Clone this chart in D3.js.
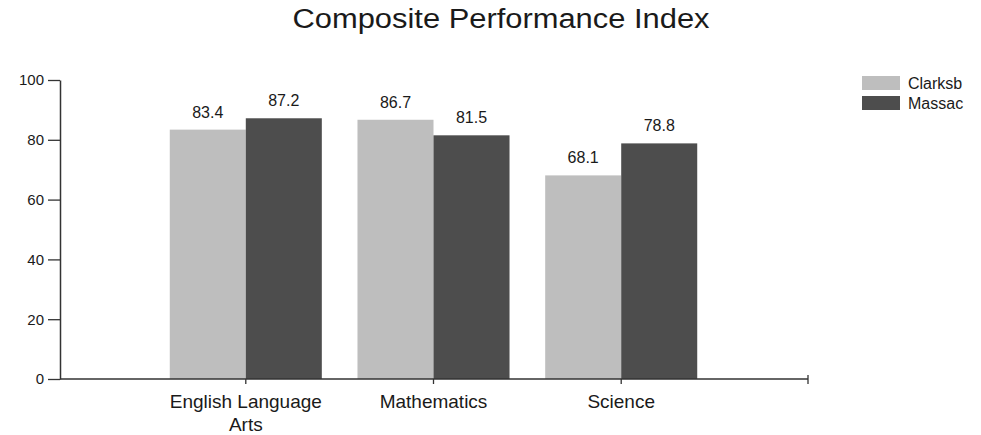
<!DOCTYPE html>
<html>
<head>
<meta charset="utf-8">
<script src="https://cdn.jsdelivr.net/npm/d3@7"></script>
<style>
  body { margin: 0; background: #fff; }
  text { font-family: "Liberation Sans", Arial, sans-serif; fill: #1a1a1a; }
</style>
</head>
<body>
<div id="chart"></div>
<script>
// Chart data
const subjects = ["English Language Arts", "Mathematics", "Science"];
const seriesNames = ["Clarksb", "Massac"];
const clarksbValues = [83.4, 86.7, 68.1];
const massacValues = [87.2, 81.5, 78.8];
const yTicks = [0, 20, 40, 60, 80, 100];
const colors = ["#bebebe", "#4d4d4d"];

const width = 981, height = 435;
const svg = d3.select("#chart").append("svg")
    .attr("width", width)
    .attr("height", height);

// Plot frame
const xLeft = 60, xRight = 808, yTop = 80, yBottom = 379;

const x = d3.scaleBand()
    .domain(subjects)
    .range([151, 716])
    .paddingInner(0.19)
    .paddingOuter(0.1);
const xSeries = d3.scaleBand()
    .domain(seriesNames)
    .range([0, x.bandwidth()]);
const y = d3.scaleLinear().domain([0, 100]).range([yBottom, yTop]);

// Title
svg.append("text")
    .attr("x", 501).attr("y", 28)
    .attr("text-anchor", "middle")
    .attr("textLength", 417)
    .attr("lengthAdjust", "spacingAndGlyphs")
    .style("font-size", "27px")
    .text("Composite Performance Index");

// Bars
const rows = subjects.map((s, i) => ({ subject: s, values: [clarksbValues[i], massacValues[i]] }));
const groups = svg.selectAll(".group")
    .data(rows)
    .join("g")
    .attr("class", "group")
    .attr("transform", d => `translate(${x(d.subject)},0)`);

groups.selectAll("rect")
    .data(d => d.values.map((v, j) => ({ name: seriesNames[j], value: v, idx: j })))
    .join("rect")
    .attr("x", d => xSeries(d.name))
    .attr("y", d => y(d.value))
    .attr("width", xSeries.bandwidth())
    .attr("height", d => y(0) - y(d.value))
    .attr("fill", d => colors[d.idx]);

groups.selectAll(".val")
    .data(d => d.values.map((v, j) => ({ name: seriesNames[j], value: v })))
    .join("text")
    .attr("class", "val")
    .attr("x", d => xSeries(d.name) + xSeries.bandwidth() / 2)
    .attr("y", d => y(d.value) - 12)
    .attr("text-anchor", "middle")
    .style("font-size", "16px")
    .text(d => d.value.toFixed(1));

// Y axis
const yAxis = svg.append("g")
    .attr("transform", `translate(${xLeft},0)`)
    .call(d3.axisLeft(y).tickValues(yTicks).tickSize(12).tickPadding(4).tickSizeOuter(0));
yAxis.select(".domain").attr("stroke", "#333").attr("stroke-width", 1.5);
yAxis.selectAll(".tick line").attr("stroke", "#333").attr("stroke-width", 1.3);
yAxis.selectAll(".tick text")
    .style("font-size", "15px")
    .style("font-family", "'Liberation Sans', Arial, sans-serif")
    .attr("fill", "#1a1a1a");

// X axis
const xAxis = svg.append("g")
    .attr("transform", `translate(0,${yBottom})`)
    .call(d3.axisBottom(x).tickSize(5).tickSizeOuter(0));
xAxis.select(".domain").remove();
xAxis.append("line")
    .attr("x1", xLeft).attr("x2", xRight)
    .attr("stroke", "#333").attr("stroke-width", 1.5);
xAxis.append("line")
    .attr("x1", xRight).attr("x2", xRight).attr("y1", -4).attr("y2", 5)
    .attr("stroke", "#333").attr("stroke-width", 1.3);
xAxis.selectAll(".tick line").attr("stroke", "#333").attr("stroke-width", 1.3);
xAxis.selectAll(".tick text").remove();
xAxis.selectAll(".tick").each(function(d) {
    const words = d === "English Language Arts" ? ["English Language", "Arts"] : [d];
    const t = d3.select(this).append("text")
        .attr("text-anchor", "middle")
        .attr("y", 29)
        .style("font-size", "19px")
        .attr("fill", "#1a1a1a");
    words.forEach((w, i) => {
        t.append("tspan").attr("x", 0).attr("dy", i === 0 ? 0 : 23).text(w);
    });
});

// Legend
const legend = svg.append("g").attr("transform", "translate(862,76)");
seriesNames.forEach((name, i) => {
    const row = legend.append("g").attr("transform", `translate(0,${i * 20})`);
    row.append("rect").attr("width", 38).attr("height", 14).attr("fill", colors[i]);
    row.append("text").attr("x", 46).attr("y", 13)
        .style("font-size", "16px").text(name);
});
</script>
</body>
</html>
